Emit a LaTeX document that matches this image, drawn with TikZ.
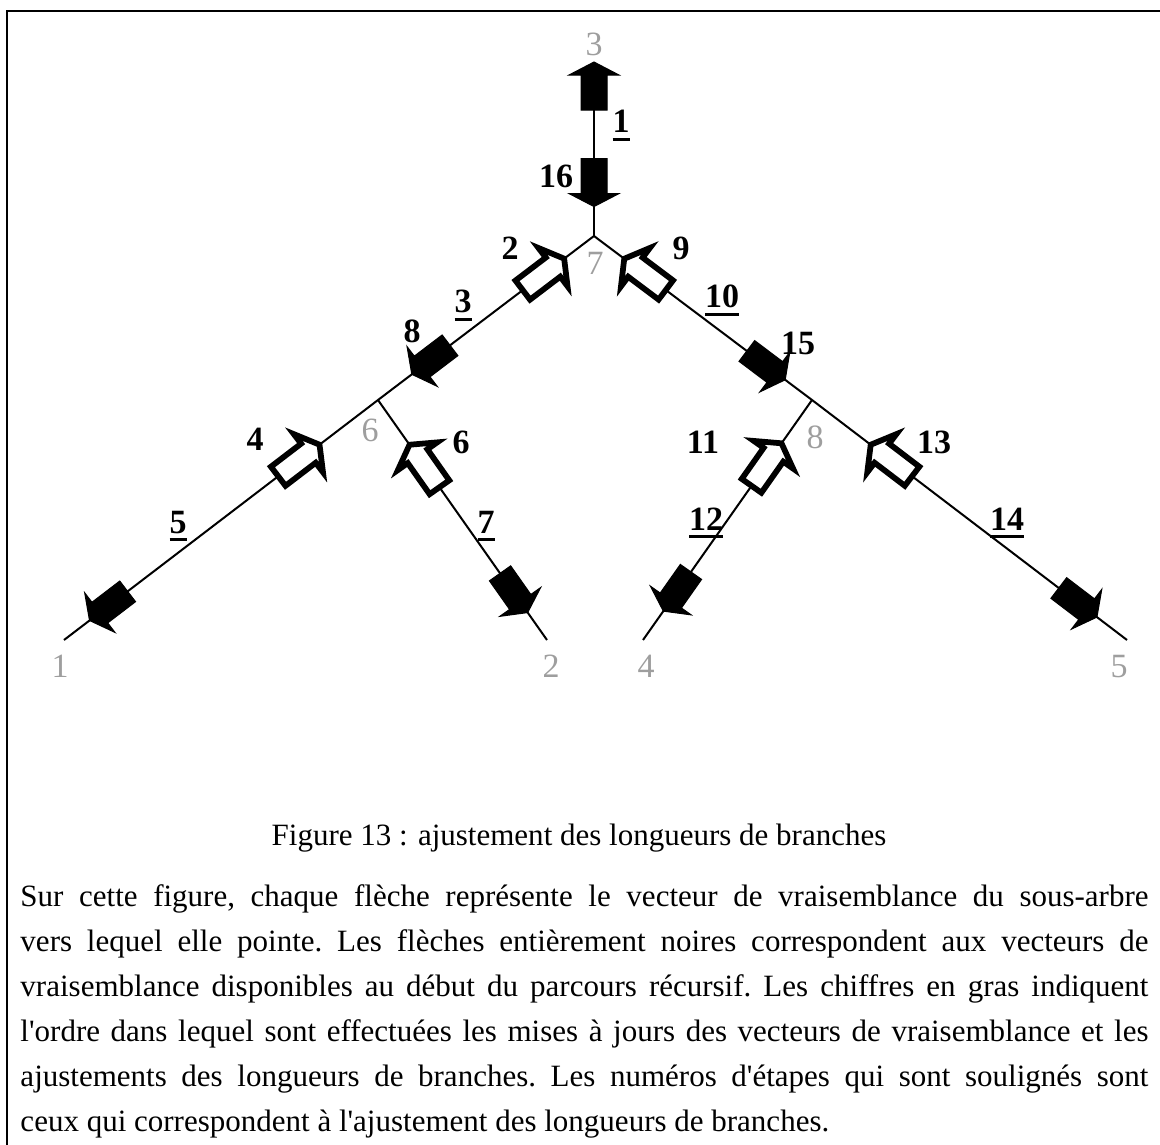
\documentclass[tikz,border=0pt]{standalone}
\usepackage{fontspec}
\setmainfont{Liberation Serif}[Ligatures=TeXOff]
\usetikzlibrary{positioning}

\definecolor{leafgray}{gray}{0.62}

% block arrows laid on a branch, #1 = 1 (with the path) or -1 (against it)
\tikzset{
  fullvec/.pic={
    \filldraw[line width=0.4pt, line join=miter]
      ({-24*#1},-13) -- ({11*#1},-13) -- ({11*#1},-25) -- ({24*#1},0)
      -- ({11*#1},25) -- ({11*#1},13) -- ({-24*#1},13) -- cycle;
  },
  openvec/.pic={
    \filldraw[fill=white, line width=2.3pt, line join=miter]
      ({-26*#1},-12) -- ({12*#1},-12) -- ({12*#1},-24) -- ({26*#1},0)
      -- ({12*#1},24) -- ({12*#1},12) -- ({-26*#1},12) -- cycle;
  },
}

\newcommand{\figfont}{\fontsize{12.4pt}{18pt}\selectfont}
\newcommand{\treefont}{\fontsize{13.6pt}{16pt}\selectfont}
\newcommand{\ulstep}[1]{\setbox0=\hbox{#1}\rlap{\rule[-3.2pt]{\wd0}{1.2pt}}\box0}

\begin{document}
\begin{tikzpicture}[x=0.4pt, y=-0.4pt, font=\figfont,
  branch/.style={line width=0.8pt},
  onbranch/.style={sloped, allow upside down},
  taxon/.style={anchor=base, inner sep=0pt, text=leafgray, font=\treefont},
  stepnum/.style={anchor=base, inner sep=0pt, font=\treefont\bfseries},
]
\useasboundingbox (0,0) rectangle (1160,1145);
\draw[line width=0.8pt] (7,1145) -- (7,11) -- (1160,11);

% tree
\coordinate (r7) at (594,236);
\coordinate (r6) at (378,400);
\coordinate (r8) at (812,400);
\coordinate (t3) at (594,62);
\coordinate (t1) at (64,640);
\coordinate (t2) at (547,640);
\coordinate (t4) at (643,640);
\coordinate (t5) at (1127,640);

\draw[branch] (t3) -- (r7);
\draw[branch] (r7) -- (r6) -- (t1);
\draw[branch] (r6) -- (t2);
\draw[branch] (r7) -- (r8) -- (t5);
\draw[branch] (r8) -- (t4);

\node[taxon] (lab3) at (594,56) {3};
\node[taxon] (lab7) at (595,275) {7};
\node[taxon] (lab6) at (370,442) {6};
\node[taxon] (lab8) at (815,448) {8};
\node[taxon] (lab1) at (60,677) {1};
\node[taxon] (lab2) at (551,677) {2};
\node[taxon] (lab4) at (646,677) {4};
\node[taxon] (lab5) at (1119,677) {5};

% vectors
\path (r7) -- (t3) pic[onbranch, pos=.307]{fullvec=-1} pic[onbranch, pos=.862]{fullvec=1};
\path (r7) -- (r6) pic[onbranch, pos=.234]{openvec=-1} pic[onbranch, pos=.755]{fullvec=1};
\path (r6) -- (t1) pic[onbranch, pos=.252]{openvec=-1} pic[onbranch, pos=.858]{fullvec=1};
\path (r6) -- (t2) pic[onbranch, pos=.275]{openvec=-1} pic[onbranch, pos=.804]{fullvec=1};
\path (r7) -- (r8) pic[onbranch, pos=.234]{openvec=-1} pic[onbranch, pos=.789]{fullvec=1};
\path (r8) -- (t4) pic[onbranch, pos=.269]{openvec=-1} pic[onbranch, pos=.798]{fullvec=1};
\path (r8) -- (t5) pic[onbranch, pos=.252]{openvec=-1} pic[onbranch, pos=.844]{fullvec=1};

% order of the steps
\node[stepnum] (s1) at (621,133) {\ulstep{1}};
\node[stepnum] (s2) at (510,260) {2};
\node[stepnum] (s3) at (463,313) {\ulstep{3}};
\node[stepnum] (s4) at (255,450) {4};
\node[stepnum] (s5) at (178,533) {\ulstep{5}};
\node[stepnum] (s6) at (461,453) {6};
\node[stepnum] (s7) at (486,533) {\ulstep{7}};
\node[stepnum] (s8) at (412,343) {8};
\node[stepnum] (s9) at (681,260) {9};
\node[stepnum] (s10) at (722,308) {\ulstep{10}};
\node[stepnum] (s11) at (703,453) {11};
\node[stepnum] (s12) at (706,530) {\ulstep{12}};
\node[stepnum] (s13) at (934,453) {13};
\node[stepnum] (s14) at (1007,530) {\ulstep{14}};
\node[stepnum] (s15) at (798,355) {15};
\node[stepnum] (s16) at (556,188) {16};

\node[anchor=base] (caption) at (579,845) {Figure 13 : ajustement des longueurs de branches};
\node[anchor=base west, inner sep=0pt, text width=451.2pt, align=justify] (legend) at (20,906)
  {\frenchspacing Sur cette figure, chaque flèche représente le vecteur de vraisemblance du sous-arbre\linebreak
   vers lequel elle pointe. Les flèches entièrement noires correspondent aux vecteurs de\linebreak
   vraisemblance disponibles au début du parcours récursif. Les chiffres en gras indiquent\linebreak
   l'ordre dans lequel sont effectuées les mises à jours des vecteurs de vraisemblance et les\linebreak
   ajustements des longueurs de branches. Les numéros d'étapes qui sont soulignés sont\linebreak
   ceux qui correspondent à l'ajustement des longueurs de branches.};
\end{tikzpicture}
\end{document}
